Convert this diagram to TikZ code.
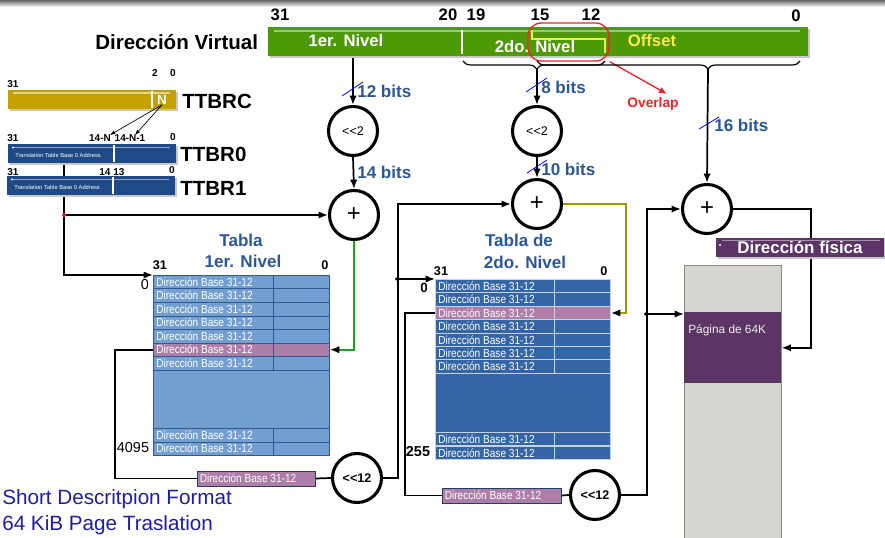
\documentclass[tikz,border=0pt]{standalone}
\usepackage{fontspec}
\setmainfont{Liberation Sans}
\newfontfamily\cellfont[FakeStretch=0.86]{Liberation Sans}
\usetikzlibrary{arrows.meta,decorations.pathreplacing,calc,backgrounds}

\definecolor{vgreen}{HTML}{4E9A06}
\definecolor{gold}{HTML}{C4A000}
\definecolor{tblue}{HTML}{204A87}
\definecolor{lblue}{HTML}{729FCF}
\definecolor{lbluedark}{HTML}{2F5A96}
\definecolor{mblue}{HTML}{3465A4}
\definecolor{rowedge}{HTML}{C9D1DA}
\definecolor{plumlight}{HTML}{AD7FA8}
\definecolor{plumdark}{HTML}{5C3566}
\definecolor{pagegray}{HTML}{D3D7CF}
\definecolor{pageedge}{HTML}{888A85}
\definecolor{labelblue}{HTML}{2B5797}
\definecolor{olivewire}{HTML}{9C9A00}
\definecolor{greenwire}{HTML}{1FA01F}
\definecolor{navytext}{HTML}{1E1E9E}
\definecolor{butter}{HTML}{FCE94F}
\definecolor{redmark}{HTML}{E8262A}

\tikzset{
  wire/.style={line width=1.3pt, draw=black},
  arr/.style={wire, -{Latex[length=7pt,width=5.5pt,color=black]}},
  thinarr/.style={draw=black, line width=0.5pt, -{Latex[length=4pt,width=3pt]}},
  ring/.style={circle, draw=black, fill=white, line width=2.3pt, minimum size=36.75pt, inner sep=0pt},
  shiftlbl/.style={font=\fontsize{9.4}{10}\selectfont},
  bitlbl/.style={anchor=west, inner sep=0pt, text=labelblue, font=\bfseries\fontsize{12.8}{14}\selectfont},
  slash/.style={draw=blue, line width=0.6pt},
  numlbl/.style={inner sep=0pt, font=\bfseries\fontsize{12.5}{14}\selectfont},
  tinylbl/.style={inner sep=0pt, font=\bfseries\fontsize{7.5}{8}\selectfont},
  biglbl/.style={anchor=west, inner sep=0pt, font=\bfseries\fontsize{15.4}{17}\selectfont},
  celltxt/.style={anchor=west, inner sep=0pt, text=white, font=\cellfont\fontsize{8.8}{9}\selectfont},
  rowa/.style={draw=lbluedark, line width=0.7pt, minimum width=132pt, minimum height=10.125pt, inner sep=0pt, anchor=north west},
  rowb/.style={draw=rowedge, line width=0.7pt, minimum width=131.25pt, minimum height=10.05pt, inner sep=0pt, anchor=north west},
  titlelbl/.style={inner sep=0pt, text=labelblue, font=\bfseries\fontsize{12.8}{14}\selectfont},
  regbar/.style={inner sep=0pt, minimum width=126pt, minimum height=14.25pt},
  basebox/.style={draw=lbluedark!70!black, line width=0.7pt, fill=plumlight, minimum height=11.25pt, inner sep=0pt},
  barshadow/.style={fill=black!22},
}

\begin{document}
\begin{tikzpicture}[x=0.75pt,y=-0.75pt]
\useasboundingbox (0,0) rectangle (885,538);

% window edge at the top
\shade[top color=black!60, bottom color=white] (0,0) rectangle (885,7);

% ---------- virtual address ----------
\node[biglbl] (vlab) at (95,42) {Dirección Virtual};
\fill[barshadow] (270,29) rectangle (810,58);
\node[inner sep=0pt, fill=vgreen, minimum width=405pt, minimum height=21.75pt] (vb) at (538,41.5) {};
\draw[vgreen!55!white, line width=0.8pt] (274,31) -- (800,31);
\draw[white, line width=1.5pt] (462,30) -- (462,54);
\node[numlbl, text=white] at (346,41) {1er. Nivel};
\node[numlbl, text=white] at (535,47) {2do. Nivel};
\node[numlbl, text=butter] at (652,41) {Offset};
\draw[butter, line width=1.8pt] (532,30) -- (532,39) -- (605,39) -- (605,53);

\node[numlbl] at (280,15) {31};
\node[numlbl] at (448,15) {20};
\node[numlbl] at (476,15) {19};
\node[numlbl] at (540,15) {15};
\node[numlbl] at (591,15) {12};
\node[numlbl] at (796,16) {0};

% overlap marker
\node[draw=redmark, line width=1pt, rounded corners=10pt, minimum width=60.75pt, minimum height=28.5pt, inner sep=0pt] (ovl) at (568.5,42) {};
\node[inner sep=0pt, text=redmark, font=\bfseries\fontsize{10.3}{12}\selectfont] (ovlab) at (653,104) {Overlap};
\coordinate (ovtip) at (667,94);
\draw[draw=redmark, line width=1pt, -{Latex[length=6pt,width=5pt]}] (ovl.south east) -- (ovtip);

% field braces
\draw[line width=0.9pt, decorate, decoration={brace, mirror, amplitude=6pt, aspect=0.52}] (463,61) -- (605,61);
\draw[line width=0.9pt, decorate, decoration={brace, mirror, amplitude=6pt, aspect=0.65}] (537,61) -- (800,61);
\coordinate (br1tip) at (537,69);
\coordinate (br2tip) at (708,69);

% ---------- registers ----------
\fill[barshadow] (10,92) rectangle (178,111);
\node[regbar, fill=gold] (ttbrc) at (92,99.5) {};
\draw[gold!45!white, line width=0.9pt] (13,93) -- (170,93);
\draw[white, line width=1pt] (152,91) -- (152,108);
\node[inner sep=0pt, text=white, font=\bfseries\fontsize{10}{10}\selectfont] (nfield) at (162,100) {N};
\node[biglbl] at (182,101) {TTBRC};
\node[tinylbl] at (13,84) {31};
\node[tinylbl] at (155,73) {2};
\node[tinylbl] at (173,73) {0};

\fill[barshadow] (10,146) rectangle (178,165);
\node[regbar, fill=tblue] (ttbr0) at (92,153.5) {};
\draw[tblue!50!white, line width=0.8pt] (13,147.5) -- (170,147.5);
\fill[white] (13,147.5) circle (1.2);
\draw[white, line width=1pt] (114,145) -- (114,162);
\node[anchor=west, inner sep=0pt, text=white, font=\fontsize{4.3}{5}\selectfont] at (15,155) {Translation Table Base 0 Address};
\node[biglbl] at (180,154) {TTBR0};
\node[tinylbl] at (13,138) {31};
\node[tinylbl] (l14n) at (100,138) {14-N};
\node[tinylbl] (l14n1) at (130,138) {14-N-1};
\node[tinylbl] at (173,137) {0};

\coordinate (n14a) at (110,135);
\coordinate (n14b) at (135,135);
\draw[thinarr] (nfield.south) -- (n14a);
\draw[thinarr] (nfield.south) -- (n14b);

% ---------- operator circles ----------
\node[ring, shiftlbl] (shl1) at (353,131) {<\kern0pt<2};
\node[ring, shiftlbl] (shl2) at (537,131) {<\kern0pt<2};
\node[ring, font=\fontsize{18}{18}\selectfont] (add1) at (354,215) {+};
\node[ring, font=\fontsize{18}{18}\selectfont] (add2) at (537,204) {+};
\node[ring, font=\fontsize{18}{18}\selectfont] (add3) at (707,209) {+};
\node[ring, shiftlbl, font=\bfseries\fontsize{9.4}{10}\selectfont] (sh12a) at (357,478) {<\kern0pt<12};
\node[ring, shiftlbl, font=\bfseries\fontsize{9.4}{10}\selectfont] (sh12b) at (595,495) {<\kern0pt<12};

% ---------- first level table ----------
\node[titlelbl] at (241,240) {Tabla};
\node[titlelbl] at (243,261) {1er. Nivel};
\node[inner sep=0pt, font=\bfseries\fontsize{9.5}{10}\selectfont] at (160,265) {31};
\node[inner sep=0pt, font=\bfseries\fontsize{9.5}{10}\selectfont] at (325,265) {0};
\node[inner sep=0pt, font=\fontsize{10.8}{12}\selectfont] at (145,285) {0};
\node[inner sep=0pt, font=\fontsize{10.8}{12}\selectfont] at (133,448) {4095};

\foreach \n/\y/\c in {1/275/lblue,2/288.5/lblue,3/302/lblue,4/315.5/lblue,5/329/lblue,6/342.5/plumlight,7/356/lblue,8/428/lblue,9/441.5/lblue}{
  \node[rowa, fill=\c] (t1r\n) at (153,\y) {};
  \draw[draw=lbluedark, line width=0.7pt] ($(t1r\n.north west)+(120,0)$) -- ($(t1r\n.south west)+(120,0)$);
  \node[celltxt] at ($(t1r\n.west)+(3,0)$) {Dirección Base 31-12};
}
\node[rowa, fill=lblue, minimum height=43.875pt] (t1gap) at (153,369.5) {};

% ---------- second level table ----------
\node[titlelbl] at (519,240) {Tabla de};
\node[titlelbl] at (525,262) {2do. Nivel};
\node[inner sep=0pt, font=\bfseries\fontsize{9.5}{10}\selectfont] at (441,271) {31};
\node[inner sep=0pt, font=\bfseries\fontsize{9.5}{10}\selectfont] at (604,271) {0};
\node[inner sep=0pt, font=\bfseries\fontsize{10}{12}\selectfont] at (424,288) {0};
\node[inner sep=0pt, font=\bfseries\fontsize{10.8}{12}\selectfont] at (418,452) {255};

\foreach \n/\y/\c in {1/279/mblue,2/292.4/mblue,3/305.8/plumlight,4/319.2/mblue,5/332.6/mblue,6/346/mblue,7/359.4/mblue,8/432/mblue,9/446/mblue}{
  \node[rowb, fill=\c] (t2r\n) at (435,\y) {};
  \draw[draw=rowedge, line width=0.7pt] ($(t2r\n.north west)+(119,0)$) -- ($(t2r\n.south west)+(119,0)$);
  \node[celltxt] at ($(t2r\n.west)+(3,0)$) {Dirección Base 31-12};
}
\node[rowb, fill=mblue, minimum height=44.4pt] (t2gap) at (435,372.8) {};

% ---------- selected base addresses ----------
\node[basebox, minimum width=88.5pt] (pb1) at (256,478.5) {};
\node[celltxt] at ($(pb1.west)+(3,0)$) {Dirección Base 31-12};
\node[basebox, minimum width=89.25pt] (pb2) at (501.5,495.5) {};
\node[celltxt] at ($(pb2.west)+(3,0)$) {Dirección Base 31-12};

% ---------- physical memory ----------
\node[draw=pageedge, line width=0.8pt, fill=pagegray, minimum width=72.75pt, minimum height=210pt, inner sep=0pt, anchor=north west] (page) at (684,265) {};
\node[fill=plumdark, minimum width=72.75pt, minimum height=53.25pt, inner sep=0pt, anchor=north west] (pg64) at (684,312) {};
\node[anchor=west, inner sep=0pt, text=white!85!gray, font=\fontsize{8.9}{10}\selectfont] at (688,330) {Página de 64K};

% ---------- connectors ----------
\begin{scope}[on background layer]
  \draw[arr] (vb.south -| shl1.north) -- (shl1.north);
  \draw[arr] (shl1.south) -- (add1.north);
  \draw[arr] (br1tip) -- (shl2.north);
  \draw[arr] (shl2.south) -- (add2.north);
  \draw[arr] (br2tip) -- (add3.north);

  \draw[arr] ($(ttbr0.south west)+(56,0)$) |- (t1r1.north west);
  \coordinate (j0) at (64,215);
  \draw[arr] (j0) -- (j0 -| add1.west);

  \draw[draw=greenwire, line width=1.3pt, -{Latex[length=7pt,width=5.5pt,color=black]}] (add1.south) |- (t1r6.east);
  \draw[wire] (t1r6.west) -- ++(-38,0) |- (pb1.west);
  \draw[wire] (pb1.east) -- (sh12a.west);
  \draw[arr] (sh12a.east) -- ++(15,0) |- (add2.west);
  \coordinate (j1) at (396.5,279);
  \draw[arr] (j1) -- (t2r1.north west);

  \draw[draw=olivewire, line width=1.3pt, -{Latex[length=7pt,width=5.5pt,color=black]}] (add2.east) -- ++(63,0) |- (t2r3.east);
  \draw[wire] (t2r3.west) -- ++(-30,0) |- (pb2.west);
  \draw[wire] (pb2.east) -- (sh12b.west);
  \draw[arr] (sh12b.east) -- ++(26,0) |- (add3.west);
  \coordinate (j2) at (645.5,314);
  \draw[arr] (j2) -- (j2 -| pg64.west);

  \draw[arr] (add3.east) -- ++(78,0) |- (pg64.east);
\end{scope}
\fill[redmark] (j0) circle (2);
\fill (j1) circle (1.6);
\fill (j2) circle (1.6);

% TTBR1 sits over the base pointer wire
\fill[barshadow] (9,178) rectangle (177,197);
\node[regbar, fill=tblue] (ttbr1) at (91,185.5) {};
\draw[tblue!50!white, line width=0.8pt] (12,179.5) -- (169,179.5);
\fill[white] (12,179.5) circle (1.2);
\draw[white, line width=1pt] (113,177) -- (113,194);
\node[anchor=west, inner sep=0pt, text=white, font=\fontsize{4.3}{5}\selectfont] at (14,187) {Translation Table Base 0 Address};
\node[biglbl] at (180,188) {TTBR1};
\node[tinylbl] at (13,172) {31};
\node[tinylbl] at (105,172) {14};
\node[tinylbl] at (119,172) {13};
\node[tinylbl] at (172,170) {0};

% physical address tag
\fill[barshadow] (718,239) rectangle (886,259);
\node[fill=plumdark, minimum width=126pt, minimum height=14.25pt, inner sep=0pt, text=white, font=\bfseries\fontsize{12.7}{14}\selectfont] (fis) at (800,247.5) {Dirección física};
\draw[plumdark!55!white, line width=0.8pt] (722,240.5) -- (880,240.5);
\fill[white] (720,245) circle (1.2);

% ---------- bit widths ----------
\draw[slash] (342,96) -- (363,82);
\node[bitlbl] at (357,91) {12 bits};
\node[bitlbl] at (357,172) {14 bits};
\draw[slash] (526,92) -- (547,78);
\node[bitlbl] at (541,87) {8 bits};
\draw[slash] (527,173) -- (547,160);
\node[bitlbl] at (541,169) {10 bits};
\draw[slash] (699,129) -- (719,117);
\node[bitlbl] at (714,125) {16 bits};

% ---------- caption ----------
\node[anchor=west, inner sep=0pt, text=navytext, font=\fontsize{15.5}{18}\selectfont] at (2,499) {Short Descritpion Format};
\node[anchor=west, inner sep=0pt, text=navytext, font=\fontsize{15.5}{18}\selectfont] at (2,525) {64 KiB Page Traslation};
\end{tikzpicture}
\end{document}
